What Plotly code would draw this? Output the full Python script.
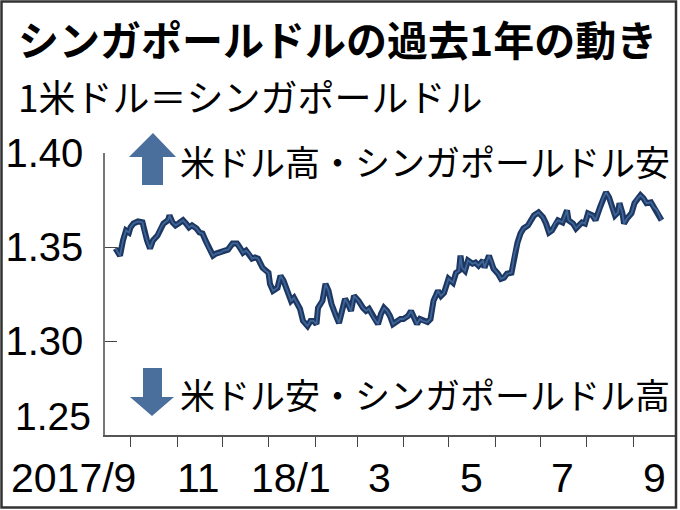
import plotly.graph_objects as go

# ---------------- data ----------------
dates = [
    "2017-09-21", "2017-09-24", "2017-09-26", "2017-09-28", "2017-09-30",
    "2017-10-01", "2017-10-03", "2017-10-06", "2017-10-09", "2017-10-10",
    "2017-10-12", "2017-10-14", "2017-10-16", "2017-10-19", "2017-10-21",
    "2017-10-23", "2017-10-26", "2017-10-27", "2017-10-29", "2017-10-31",
    "2017-11-02", "2017-11-05", "2017-11-07", "2017-11-09", "2017-11-11",
    "2017-11-14", "2017-11-16", "2017-11-18", "2017-11-20", "2017-11-22",
    "2017-11-25", "2017-11-27", "2017-11-30", "2017-12-02", "2017-12-05",
    "2017-12-08", "2017-12-11", "2017-12-12", "2017-12-15", "2017-12-17",
    "2017-12-19", "2017-12-21", "2017-12-23", "2017-12-25", "2017-12-28",
    "2017-12-30", "2018-01-01", "2018-01-02", "2018-01-04", "2018-01-07",
    "2018-01-09", "2018-01-11", "2018-01-14", "2018-01-16", "2018-01-18",
    "2018-01-20", "2018-01-22", "2018-01-24", "2018-01-27", "2018-01-29",
    "2018-01-31", "2018-02-02", "2018-02-03", "2018-02-06", "2018-02-08",
    "2018-02-10", "2018-02-12", "2018-02-15", "2018-02-17", "2018-02-19",
    "2018-02-21", "2018-02-23", "2018-02-25", "2018-02-27", "2018-03-02",
    "2018-03-05", "2018-03-07", "2018-03-09", "2018-03-12", "2018-03-15",
    "2018-03-17", "2018-03-19", "2018-03-21", "2018-03-23", "2018-03-25",
    "2018-03-28", "2018-03-30", "2018-04-01", "2018-04-04", "2018-04-06",
    "2018-04-08", "2018-04-10", "2018-04-12", "2018-04-14", "2018-04-17",
    "2018-04-19", "2018-04-21", "2018-04-24", "2018-04-26", "2018-04-28",
    "2018-04-30", "2018-05-01", "2018-05-04", "2018-05-06", "2018-05-08",
    "2018-05-09", "2018-05-10", "2018-05-12", "2018-05-14", "2018-05-17",
    "2018-05-19", "2018-05-21", "2018-05-24", "2018-05-25", "2018-05-28",
    "2018-05-30", "2018-05-31", "2018-06-03", "2018-06-05", "2018-06-07",
    "2018-06-09", "2018-06-12", "2018-06-14", "2018-06-16", "2018-06-18",
    "2018-06-20", "2018-06-23", "2018-06-25", "2018-06-27", "2018-06-30",
    "2018-07-03", "2018-07-05", "2018-07-07", "2018-07-09", "2018-07-11",
    "2018-07-13", "2018-07-16", "2018-07-19", "2018-07-20", "2018-07-23",
    "2018-07-25", "2018-07-27", "2018-07-29", "2018-07-31", "2018-08-02",
    "2018-08-05", "2018-08-07", "2018-08-10", "2018-08-12", "2018-08-14",
    "2018-08-16", "2018-08-18", "2018-08-20", "2018-08-22", "2018-08-23",
    "2018-08-25", "2018-08-26", "2018-08-28", "2018-08-31", "2018-09-02",
    "2018-09-04", "2018-09-06", "2018-09-08", "2018-09-10", "2018-09-13",
    "2018-09-15", "2018-09-17", "2018-09-20",
]
rates = [
    1.3492, 1.3454, 1.3535, 1.3588, 1.3577,
    1.3604, 1.3625, 1.3636, 1.3631, 1.3588,
    1.3535, 1.3492, 1.3535, 1.3561, 1.3599,
    1.3625, 1.3642, 1.3668, 1.3631, 1.3615,
    1.3625, 1.3642, 1.3625, 1.3604, 1.3615,
    1.3599, 1.3577, 1.3572, 1.3535, 1.3497,
    1.3454, 1.3465, 1.3470, 1.3481, 1.3486,
    1.3519, 1.3519, 1.3508, 1.3470, 1.3481,
    1.3465, 1.3438, 1.3444, 1.3438, 1.3390,
    1.3374, 1.3363, 1.3304, 1.3267, 1.3283,
    1.3347, 1.3321, 1.3256, 1.3214, 1.3230,
    1.3203, 1.3171, 1.3107, 1.3080, 1.3107,
    1.3107, 1.3090, 1.3176, 1.3214, 1.3304,
    1.3267, 1.3197, 1.3133, 1.3096, 1.3160,
    1.3224, 1.3197, 1.3160, 1.3240, 1.3214,
    1.3176, 1.3160, 1.3171, 1.3123, 1.3090,
    1.3144, 1.3176, 1.3160, 1.3133, 1.3090,
    1.3107, 1.3117, 1.3117, 1.3133, 1.3160,
    1.3123, 1.3090, 1.3117, 1.3107, 1.3101,
    1.3117, 1.3214, 1.3267, 1.3240, 1.3256,
    1.3304, 1.3331, 1.3310, 1.3363, 1.3374,
    1.3454, 1.3390, 1.3374, 1.3428, 1.3411,
    1.3417, 1.3401, 1.3428, 1.3390, 1.3454,
    1.3417, 1.3385, 1.3358, 1.3331, 1.3337,
    1.3358, 1.3363, 1.3465, 1.3524, 1.3572,
    1.3599, 1.3615, 1.3642, 1.3668, 1.3684,
    1.3658, 1.3625, 1.3577, 1.3588, 1.3625,
    1.3642, 1.3631, 1.3695, 1.3642, 1.3625,
    1.3599, 1.3615, 1.3631, 1.3625, 1.3679,
    1.3668, 1.3642, 1.3711, 1.3759, 1.3791,
    1.3765, 1.3711, 1.3668, 1.3684, 1.3733,
    1.3679, 1.3625, 1.3652, 1.3679, 1.3733,
    1.3759, 1.3775, 1.3759, 1.3733, 1.3738,
    1.3711, 1.3695, 1.3642,
]

month_ticks = ["2017-10-01", "2017-11-01", "2017-12-01", "2018-01-01",
               "2018-02-01", "2018-03-01", "2018-04-01", "2018-05-01",
               "2018-06-01", "2018-07-01", "2018-08-01", "2018-09-01"]
x_label_dates = ["2017-10-06", "2017-11-15 12:00", "2018-01-16", "2018-03-16",
                 "2018-05-16", "2018-07-16", "2018-09-15"]
x_label_texts = ["2017/9", "11", "18/1", "3", "5", "7", "9"]
y_tick_vals = [1.30, 1.35, 1.40]
y_tick_texts = ["1.30", "1.35", "1.40"]
y_bottom_label = "1.25"

title_text = "シンガポールドルの過去1年の動き"
subtitle_text = "1米ドル＝シンガポールドル"
up_text = "米ドル高・シンガポールドル安"
down_text = "米ドル安・シンガポールドル高"

# ---------------- layout geometry ----------------
W, H = 680, 510
L, R, T, B = 105, 5, 153, 75
PW, PH = W - L - R, H - T - B


def px(x):
    return (x - L) / PW


def py(y):
    return (H - B - y) / PH


NUM_FONT = "Liberation Sans, Arial, sans-serif"
JP_FONT = "Noto Sans CJK JP, sans-serif"

fig = go.Figure()
fig.add_trace(go.Scatter(x=dates, y=rates, mode="lines",
                         line=dict(color="#1d3763", width=6),
                         hoverinfo="skip"))
fig.add_trace(go.Scatter(x=dates, y=rates, mode="lines",
                         line=dict(color="#3f6496", width=1.8),
                         hoverinfo="skip"))

annotations = []
annotations.append(dict(text=f"<b>{title_text}</b>", xref="paper", yref="paper",
                        x=px(16), y=py(38), xanchor="left", yanchor="middle",
                        showarrow=False, font=dict(family=JP_FONT, size=41, color="#000")))
annotations.append(dict(text=subtitle_text, xref="paper", yref="paper",
                        x=px(16), y=py(96), xanchor="left", yanchor="middle",
                        showarrow=False, font=dict(family=JP_FONT, size=37, color="#000")))
annotations.append(dict(text=up_text, xref="paper", yref="paper",
                        x=px(178), y=py(160), xanchor="left", yanchor="middle",
                        showarrow=False, font=dict(family=JP_FONT, size=35, color="#000")))
annotations.append(dict(text=down_text, xref="paper", yref="paper",
                        x=px(178), y=py(393), xanchor="left", yanchor="middle",
                        showarrow=False, font=dict(family=JP_FONT, size=35, color="#000")))
for d, t in zip(x_label_dates, x_label_texts):
    annotations.append(dict(text=t, xref="x", yref="paper", x=d, y=py(478),
                            xanchor="right" if t == "2017/9" else "center",
                            yanchor="middle", showarrow=False,
                            font=dict(family=NUM_FONT, size=41, color="#000")))
annotations.append(dict(text=y_bottom_label, xref="paper", yref="paper",
                        x=px(93), y=py(416), xanchor="right", yanchor="middle",
                        showarrow=False, font=dict(family=NUM_FONT, size=39, color="#000")))

shapes = []
up = [(153, 133), (176, 157), (163, 157), (163, 185), (142, 185), (142, 157), (129, 157)]
dn = [(143, 368), (162, 368), (162, 397), (174, 397), (152, 416), (130, 397), (143, 397)]
for pts in (up, dn):
    path = "M " + " L ".join(f"{px(a):.5f},{py(b):.5f}" for a, b in pts) + " Z"
    shapes.append(dict(type="path", xref="paper", yref="paper", path=path,
                       fillcolor="#4b6f9d", line=dict(width=0)))
shapes.append(dict(type="rect", xref="paper", yref="paper",
                   x0=px(1.5), x1=px(676), y0=py(507.5), y1=py(1.5),
                   line=dict(color="#333", width=2.5)))

fig.update_layout(
    width=W, height=H, autosize=False,
    margin=dict(l=L, r=R, t=T, b=B),
    paper_bgcolor="white", plot_bgcolor="white",
    showlegend=False,
    annotations=annotations, shapes=shapes,
    xaxis=dict(range=["2017-09-14", "2018-09-29"], type="date", automargin=False,
               showgrid=False, zeroline=False,
               showline=True, linecolor="#555", linewidth=1.5,
               tickmode="array", tickvals=month_ticks, ticktext=[""] * len(month_ticks),
               ticks="outside", ticklen=10, tickwidth=1.3, tickcolor="#444"),
    yaxis=dict(range=[1.25, 1.40], automargin=False, showgrid=False, zeroline=False,
               showline=True, linecolor="#777", linewidth=1.5,
               tickmode="array", tickvals=y_tick_vals, ticktext=y_tick_texts,
               ticks="inside", ticklen=12, tickwidth=1.3, tickcolor="#444",
               ticklabelstandoff=12,
               tickfont=dict(family=NUM_FONT, size=40, color="#000")),
)

fig.write_html("out.html", config={"displayModeBar": False},
               post_script="document.body.style.margin='0px';document.body.style.padding='0px';")
